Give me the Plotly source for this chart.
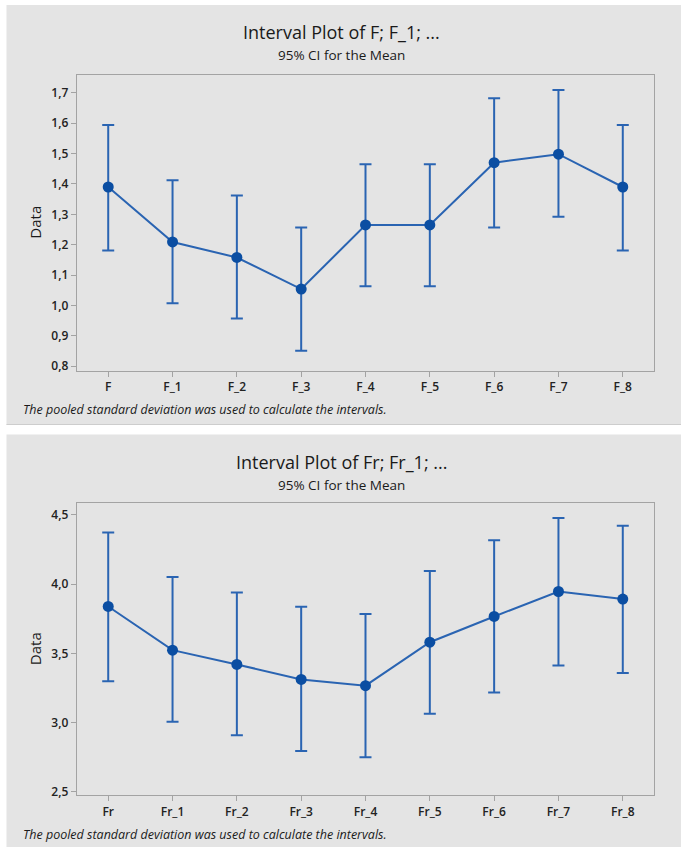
import plotly.graph_objects as go

# Interval plot data: group means with 95% CI bounds (pooled SD)
f_groups = ["F", "F_1", "F_2", "F_3", "F_4", "F_5", "F_6", "F_7", "F_8"]
f_mean = [1.390, 1.209, 1.158, 1.054, 1.265, 1.265, 1.470, 1.498, 1.390]
f_lower = [1.181, 1.007, 0.957, 0.851, 1.063, 1.063, 1.257, 1.292, 1.181]
f_upper = [1.594, 1.412, 1.362, 1.257, 1.465, 1.465, 1.682, 1.709, 1.594]

fr_groups = ["Fr", "Fr_1", "Fr_2", "Fr_3", "Fr_4", "Fr_5", "Fr_6", "Fr_7", "Fr_8"]
fr_mean = [3.838, 3.523, 3.420, 3.312, 3.267, 3.580, 3.766, 3.946, 3.891]
fr_lower = [3.298, 3.007, 2.909, 2.796, 2.751, 3.064, 3.217, 3.413, 3.358]
fr_upper = [4.371, 4.051, 3.938, 3.836, 3.783, 4.094, 4.316, 4.476, 4.421]

W, H = 681, 852
LINE = "#2a64b2"
MARK = "#0b4ea2"
PANEL = "#e4e4e4"
FONT = "Open Sans"


def px_x(v):
    return v / W


def px_y(v):
    return 1 - v / H


fig = go.Figure()


def add_series(groups, mean, lower, upper, xa, ya):
    fig.add_trace(go.Scatter(
        x=groups, y=mean, xaxis=xa, yaxis=ya,
        mode="lines+markers",
        line=dict(color=LINE, width=2),
        marker=dict(color=MARK, size=11),
        error_y=dict(
            type="data", symmetric=False,
            array=[u - m for u, m in zip(upper, mean)],
            arrayminus=[m - l for m, l in zip(mean, lower)],
            color=LINE, thickness=2, width=6,
        ),
        showlegend=False, hoverinfo="skip",
    ))


add_series(f_groups, f_mean, f_lower, f_upper, "x", "y")
add_series(fr_groups, fr_mean, fr_lower, fr_upper, "x2", "y2")

axis_common = dict(
    showline=True, linecolor="#a3a3a3", linewidth=1, mirror=True,
    ticks="outside", ticklen=5, tickcolor="#a3a3a3", tickwidth=1,
    showgrid=False, zeroline=False,
    tickfont=dict(family=FONT, size=12, color="#222222", weight=600),
)

xdom = [px_x(76.7), px_x(654.3)]

fig.update_layout(
    width=W, height=H,
    margin=dict(l=0, r=0, t=0, b=0),
    paper_bgcolor="white", plot_bgcolor="white",
    separators=",.",
    xaxis=dict(domain=xdom, type="category", range=[-0.49, 8.49],
               anchor="y", **axis_common),
    yaxis=dict(domain=[px_y(372.7), px_y(75)], range=[0.786, 1.76],
               dtick=0.1, tickformat=".1f", anchor="x", **axis_common),
    xaxis2=dict(domain=xdom, type="category", range=[-0.49, 8.49],
                anchor="y2", **axis_common),
    yaxis2=dict(domain=[px_y(800), px_y(506)], range=[2.476, 4.584],
                dtick=0.5, tickformat=".1f", anchor="x2", **axis_common),
)

# Gray panel backgrounds behind each plot
shapes = [
    dict(type="rect", xref="paper", yref="paper", layer="below",
         x0=px_x(6.5), x1=1, y0=px_y(427.5), y1=px_y(5),
         fillcolor=PANEL, line=dict(width=0)),
    dict(type="line", xref="paper", yref="paper", layer="below",
         x0=px_x(6.5), x1=1, y0=px_y(427), y1=px_y(427),
         line=dict(color="#cdcdcd", width=1)),
    dict(type="rect", xref="paper", yref="paper", layer="below",
         x0=px_x(6.5), x1=1, y0=0, y1=px_y(437),
         fillcolor=PANEL, line=dict(width=0)),
]
fig.update_layout(shapes=shapes)

annotations = []
panels = [
    ("Interval Plot of F; F_1; ...", 32, 55, 224, 412),
    ("Interval Plot of Fr; Fr_1; ...", 464.5, 487.5, 653, 839),
]
for title, ty, sy, dy, fy in panels:
    annotations += [
        dict(text=title, x=px_x(341), y=px_y(ty), xref="paper", yref="paper",
             xanchor="center", yanchor="middle", showarrow=False,
             font=dict(family=FONT, size=18, color="#1a1a1a")),
        dict(text="95% CI for the Mean", x=px_x(341), y=px_y(sy),
             xref="paper", yref="paper", xanchor="center", yanchor="middle",
             showarrow=False, font=dict(family=FONT, size=13.5, color="#1a1a1a")),
        dict(text="Data", x=px_x(35), y=px_y(dy), xref="paper", yref="paper",
             xanchor="center", yanchor="middle", textangle=-90, showarrow=False,
             font=dict(family=FONT, size=15, color="#1a1a1a")),
        dict(text="<i>The pooled standard deviation was used to calculate the intervals.</i>",
             x=px_x(21), y=px_y(fy), xref="paper", yref="paper",
             xanchor="left", yanchor="middle", showarrow=False,
             font=dict(family=FONT, size=12.5, color="#1a1a1a")),
    ]
fig.update_layout(annotations=annotations)

fig.write_html("out.html")
